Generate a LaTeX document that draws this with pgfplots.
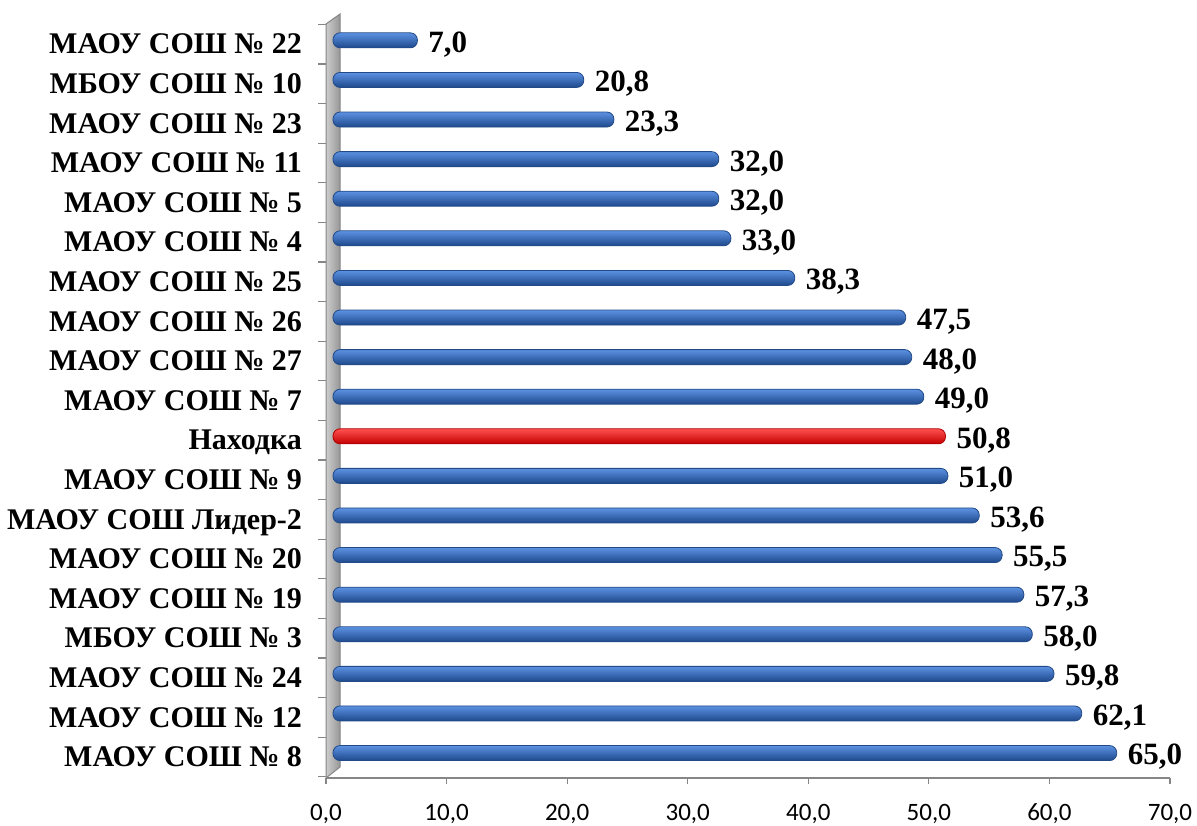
\documentclass[border=0pt]{standalone}
\usepackage{fontspec}
\setmainfont{Liberation Serif}
\newfontfamily\carlito{Carlito}
\usepackage{pgfplots}
\pgfplotsset{compat=1.18}

\definecolor{bTop}{RGB}{92,146,226}
\definecolor{bMid}{RGB}{58,118,205}
\definecolor{bBot}{RGB}{30,72,140}
\definecolor{bEdge}{RGB}{34,74,135}
\definecolor{rTop}{RGB}{255,80,80}
\definecolor{rMid}{RGB}{255,0,0}
\definecolor{rBot}{RGB}{195,0,0}
\definecolor{rEdge}{RGB}{175,0,0}
\definecolor{axgray}{RGB}{134,134,134}
\definecolor{wallL}{RGB}{205,205,205}
\definecolor{wallR}{RGB}{150,150,150}

\pgfplotsset{
  bluebar/.style={xbar, bar shift=0pt, draw=bEdge, line width=0.4pt, top color=bTop, middle color=bMid, bottom color=bBot, rounded corners=3.5pt, xshift=3.5pt},
  redbar/.style={xbar, bar shift=0pt, draw=rEdge, line width=0.4pt, top color=rTop, middle color=rMid, bottom color=rBot, rounded corners=3.5pt, xshift=3.5pt},
}

\begin{document}
\begin{tikzpicture}
\useasboundingbox (0pt,0pt) rectangle (598.5pt,412.5pt);
% back wall
\draw[draw=axgray, line width=0.5pt, left color=wallL, right color=wallR]
  (163pt,23.5pt) -- (163pt,400.5pt) -- (170pt,405.5pt) -- (170pt,29pt) -- cycle;
\begin{axis}[
  at={(163pt,23.5pt)}, anchor=south west,
  scale only axis, width=422pt, height=381.5pt,
  xmin=0, xmax=70, ymin=-0.63, ymax=18.64,
  axis x line*=bottom, axis y line*=left,
  x axis line style={draw=axgray, line width=0.6pt},
  y axis line style={draw=none},
  xtick={0,10,...,70},
  ytick={0,...,18},
  minor ytick={-0.6,0.4,...,18.4},
  tick align=outside,
  major tick length=3pt, minor tick length=4pt,
  major x tick style={draw=axgray, line width=0.6pt},
  major y tick style={draw=none},
  minor y tick style={draw=axgray, line width=0.6pt},
  yticklabels={МАОУ СОШ № 8, МАОУ СОШ № 12, МАОУ СОШ № 24, МБОУ СОШ № 3, МАОУ СОШ № 19, МАОУ СОШ № 20, МАОУ СОШ Лидер-2, МАОУ СОШ № 9, Находка, МАОУ СОШ № 7, МАОУ СОШ № 27, МАОУ СОШ № 26, МАОУ СОШ № 25, МАОУ СОШ № 4, МАОУ СОШ № 5, МАОУ СОШ № 11, МАОУ СОШ № 23, МБОУ СОШ № 10, МАОУ СОШ № 22},
  yticklabel style={font=\fontsize{15}{18}\selectfont\bfseries, text depth=0pt, text height=0.66em, yshift=-3.5pt, xshift=-5.5pt},
  xticklabel style={font=\carlito\fontsize{12.5}{15}\selectfont, yshift=-6.5pt},
  scaled x ticks=false,
  /pgf/number format/fixed,
  /pgf/number format/zerofill,
  /pgf/number format/precision=1,
  /pgf/number format/use comma,
  /pgf/number format/assume math mode=true,
  xbar, bar width=7.5pt, bar shift=0pt,
  point meta=x,
  nodes near coords,
  nodes near coords style={font=\fontsize{15.5}{18}\selectfont\bfseries, anchor=west, xshift=2pt, yshift=-2pt, text=black},
  clip=false,
]
\addplot[bluebar] coordinates {(65.0,0)};
\addplot[bluebar] coordinates {(62.1,1)};
\addplot[bluebar] coordinates {(59.8,2)};
\addplot[bluebar] coordinates {(58.0,3)};
\addplot[bluebar] coordinates {(57.3,4)};
\addplot[bluebar] coordinates {(55.5,5)};
\addplot[bluebar] coordinates {(53.6,6)};
\addplot[bluebar] coordinates {(51.0,7)};
\addplot[redbar]  coordinates {(50.8,8)};
\addplot[bluebar] coordinates {(49.0,9)};
\addplot[bluebar] coordinates {(48.0,10)};
\addplot[bluebar] coordinates {(47.5,11)};
\addplot[bluebar] coordinates {(38.3,12)};
\addplot[bluebar] coordinates {(33.0,13)};
\addplot[bluebar] coordinates {(32.0,14)};
\addplot[bluebar] coordinates {(32.0,15)};
\addplot[bluebar] coordinates {(23.3,16)};
\addplot[bluebar] coordinates {(20.8,17)};
\addplot[bluebar] coordinates {(7.0,18)};
\end{axis}
\end{tikzpicture}
\end{document}
